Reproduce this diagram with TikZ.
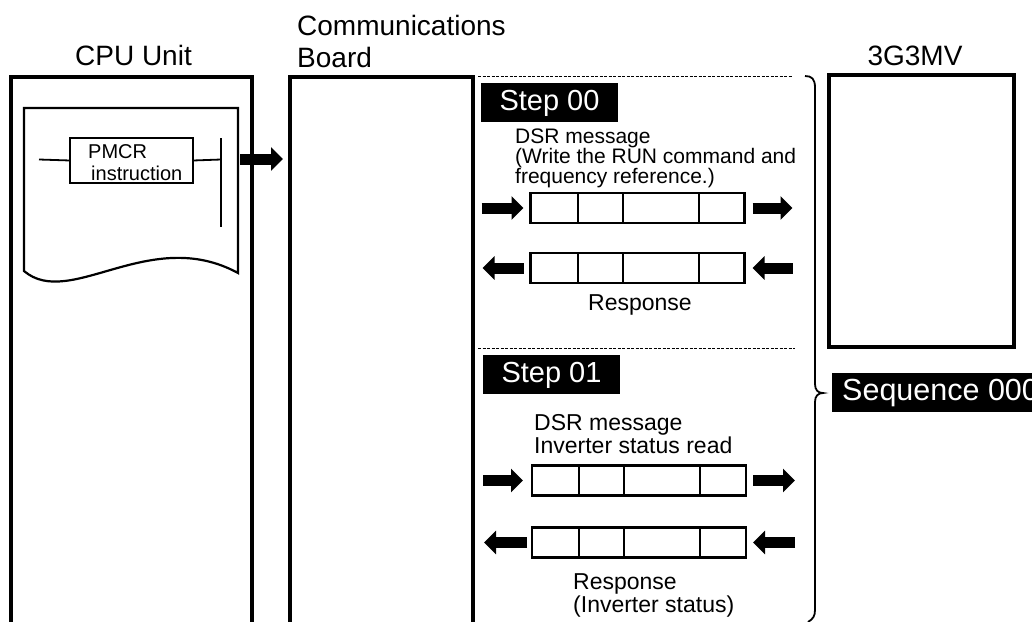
\documentclass[tikz,border=0pt]{standalone}
\usepackage{fontspec}
\setmainfont{Liberation Sans}
\usetikzlibrary{arrows.meta}
\begin{document}
\begin{tikzpicture}[x=1pt,y=-1pt,
  mainbox/.style={draw,line width=3.2pt,inner sep=0pt,outer sep=0pt,anchor=north west},
  msgbox/.style={draw,line width=2.2pt,minimum width=214pt,minimum height=30pt,inner sep=0pt,outer sep=0pt},
  divider/.style={line width=2pt},
  bigarrow/.style={line width=11pt,line cap=butt,-{Triangle[length=12pt,width=23pt]}},
  title/.style={font=\fontsize{28}{32}\selectfont,inner sep=0pt},
  lbl/.style={font=\fontsize{23}{23}\selectfont,inner sep=0pt,anchor=base west},
  slbl/.style={font=\fontsize{21}{21}\selectfont,inner sep=0pt,anchor=base west},
  plbl/.style={font=\fontsize{20}{20}\selectfont,inner sep=0pt,anchor=base west},
  stepbox/.style={fill=black,text=white,font=\fontsize{29}{32}\selectfont,minimum width=137pt,minimum height=39pt,inner sep=0pt,text height=20pt,text depth=4pt},
  dashline/.style={line width=1pt,dash pattern=on 3pt off 1.5pt},
  thin/.style={line width=1.8pt}]
\useasboundingbox (0,0) rectangle (1032,621);
\clip (0,0) rectangle (1032,621);

% titles
\node[title,anchor=base] (tcpu) at (133.5,65) {CPU Unit};
\node[title,anchor=base west] (tcomm1) at (297,35) {Communications};
\node[title,anchor=base west] (tcomm2) at (297,67) {Board};
\node[title,anchor=base] (tinv) at (915,65) {3G3MV};

% main boxes
\node[mainbox,minimum width=241pt,minimum height=580pt] (cpu) at (11,77) {};
\node[mainbox,minimum width=183pt,minimum height=580pt] (comm) at (290,77) {};
\node[mainbox,minimum width=185pt,minimum height=272pt] (inv) at (829,75) {};

% program sheet
\draw[line width=2.2pt] (24,271) -- (24,108) -- (238,108) -- (238,273)
  .. controls (150,225) and (70,310) .. (24,271) -- cycle;
\node[draw,thin,minimum width=123pt,minimum height=45pt,inner sep=0pt,outer sep=0pt,anchor=north west] (pmcr) at (70,138) {};
\node[plbl] (pmcr1) at (88,158) {PMCR};
\node[plbl] (pmcr2) at (91,180) {instruction};
\coordinate (railL) at (39,159.5);
\coordinate (railR) at (221,159.5);
\coordinate (rtop) at (221,138);
\coordinate (rbot) at (221,227);
\draw[thin] (railL) -- (pmcr.west);
\draw[thin] (pmcr.east) -- (railR);
\draw[thin] (rtop) -- (rbot);

% CPU -> board arrow
\coordinate (a0s) at (240,159);
\coordinate (a0e) at (283,159);
\draw[bigarrow] (a0s) -- (a0e);

% dashed separators
\coordinate (d1s) at (478,76); \coordinate (d1e) at (792,76);
\coordinate (d2s) at (478,348); \coordinate (d2e) at (795,348);
\draw[dashline] (d1s) -- (d1e);
\draw[dashline] (d2s) -- (d2e);

% brace
\draw[line width=1.8pt] (805,76) .. controls (812,76) and (815,79) .. (815,88)
  -- (815,384) .. controls (815,390) and (818,393) .. (823,393)
  .. controls (818,393) and (815,396) .. (815,402)
  -- (815,610) .. controls (815,616) and (813,619) .. (808,622);

% step 00
\node[stepbox] (s0) at (549.5,102.5) {Step 00};
\node[slbl] (s0t1) at (515,143) {DSR message};
\node[slbl] (s0t2) at (515,163) {(Write the RUN command and};
\node[slbl] (s0t3) at (515,183) {frequency reference.)};
\node[msgbox] (fa) at (637.5,208) {};
\node[msgbox] (fb) at (637.5,268) {};
\node[lbl,anchor=base] (s0r) at (640,310) {Response};

% step 01
\node[stepbox] (s1) at (551.5,374) {Step 01};
\node[lbl] (s1t1) at (534,430) {DSR message};
\node[lbl] (s1t2) at (534,453) {Inverter status read};
\node[msgbox] (fc) at (639,480.5) {};
\node[msgbox] (fd) at (639,542.5) {};
\node[lbl] (s1r1) at (573,589) {Response};
\node[lbl] (s1r2) at (573,612) {(Inverter status)};

% frame dividers
\foreach \f in {fa,fb,fc,fd}{
  \foreach \d in {47,92,168}{
    \draw[divider] ([xshift=\d pt]\f.north west) -- ([xshift=\d pt]\f.south west);
  }
}

% arrows
\draw[bigarrow] ([xshift=-49pt]fa.west) -- ([xshift=-7pt]fa.west);
\draw[bigarrow] ([xshift=8pt]fa.east) -- ([xshift=48pt]fa.east);
\draw[bigarrow] ([xshift=-7pt]fb.west) -- ([xshift=-48pt]fb.west);
\draw[bigarrow] ([xshift=48pt]fb.east) -- ([xshift=8pt]fb.east);
\draw[bigarrow] ([xshift=-49pt]fc.west) -- ([xshift=-9pt]fc.west);
\draw[bigarrow] ([xshift=7pt]fc.east) -- ([xshift=49pt]fc.east);
\draw[bigarrow] ([xshift=-5pt]fd.west) -- ([xshift=-48pt]fd.west);
\draw[bigarrow] ([xshift=49pt]fd.east) -- ([xshift=7pt]fd.east);

% sequence label
\node[fill=black,text=white,font=\fontsize{30.5}{32}\selectfont,anchor=west,minimum height=39pt,inner xsep=10pt,inner ysep=0pt,text height=20pt,text depth=4pt] (seq) at (832,392.5) {Sequence 000};
\end{tikzpicture}
\end{document}
